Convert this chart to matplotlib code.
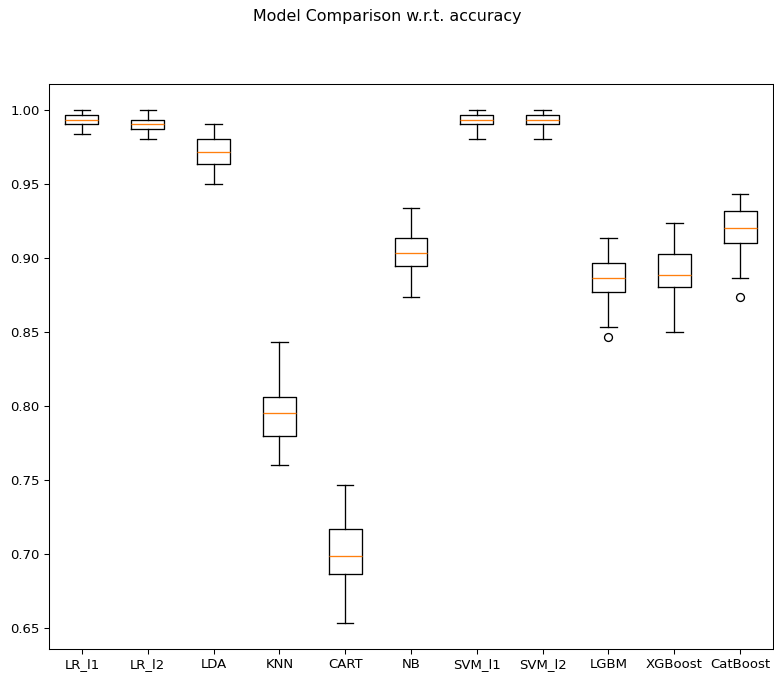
import matplotlib
matplotlib.use("Agg")
import matplotlib.pyplot as plt

# model names
names = ['LR_l1', 'LR_l2', 'LDA', 'KNN', 'CART', 'NB', 'SVM_l1', 'SVM_l2',
         'LGBM', 'XGBoost', 'CatBoost']

# box statistics
whislo = [0.9833, 0.9800, 0.9500, 0.7600, 0.6533, 0.8733, 0.9800, 0.9800, 0.8533, 0.8500, 0.8867]
q1 = [0.9900, 0.9867, 0.9633, 0.7800, 0.6867, 0.8942, 0.9900, 0.9900, 0.8767, 0.8800, 0.9100]
med = [0.9933, 0.9900, 0.9717, 0.7950, 0.6990, 0.9033, 0.9933, 0.9933, 0.8867, 0.8883, 0.9200]
q3 = [0.9967, 0.9933, 0.9800, 0.8058, 0.7167, 0.9133, 0.9967, 0.9967, 0.8967, 0.9025, 0.9317]
whishi = [1.0000, 1.0000, 0.9900, 0.8433, 0.7467, 0.9333, 1.0000, 1.0000, 0.9133, 0.9233, 0.9433]
fliers = [[], [], [], [], [], [], [], [], [0.8467], [], [0.8733]]

stats = []
for i in range(len(names)):
    stats.append({'label': names[i], 'whislo': whislo[i], 'q1': q1[i], 'med': med[i],
                  'q3': q3[i], 'whishi': whishi[i], 'fliers': fliers[i]})

dpi = 95
fig = plt.figure(figsize=(775 / dpi, 677 / dpi), dpi=dpi)
ax = fig.add_axes([49 / 775, 28 / 677, 724 / 775, 565 / 677])
ax.bxp(stats)
fig.suptitle('Model Comparison w.r.t. accuracy', y=0.986)

fig.savefig('out.png', dpi=dpi)
